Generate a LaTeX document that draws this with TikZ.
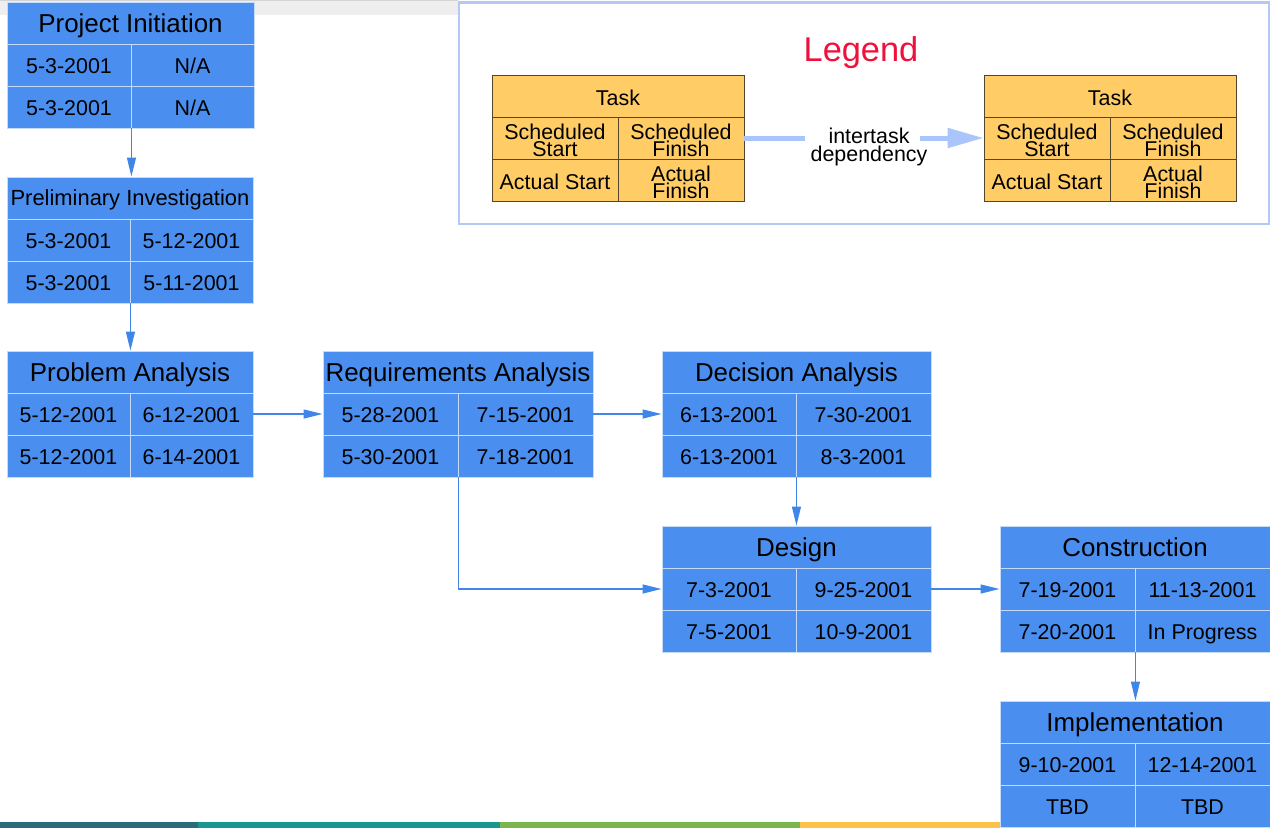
\documentclass[tikz,border=0pt]{standalone}
\usepackage{fontspec}
\setmainfont{Liberation Sans}
\usetikzlibrary{arrows.meta}
\definecolor{tbfill}{HTML}{4A8FF0}
\definecolor{tbline}{HTML}{C6DAFA}
\definecolor{conn}{HTML}{3F86E8}
\definecolor{lgfill}{HTML}{FFCC66}
\definecolor{lgline}{HTML}{54452C}
\definecolor{lgframe}{HTML}{B4C8F4}
\definecolor{lgred}{HTML}{F0103C}
\definecolor{deparrow}{HTML}{A9C5FB}
\definecolor{stripA}{HTML}{EEEEEE}
\definecolor{stripB}{HTML}{D4D4D4}
\definecolor{barA}{HTML}{2A6B7C}
\definecolor{barB}{HTML}{1A9690}
\definecolor{barC}{HTML}{7AB550}
\definecolor{barD}{HTML}{FCC14A}
\tikzset{
  tbase/.style={draw=tbline, line width=0.9bp, fill=tbfill, inner sep=0pt, minimum height=42bp, text depth=0pt, text=black},
  ttitle/.style={tbase, font=\fontsize{26}{28}\selectfont},
  ttitlesmall/.style={tbase, font=\fontsize{22}{24}\selectfont},
  tcell/.style={tbase, font=\fontsize{21.5}{23}\selectfont, text height=17bp},
  lbase/.style={draw=lgline, line width=0.7bp, fill=lgfill, inner sep=0pt, minimum width=126bp, minimum height=42bp, text depth=0pt, align=center, font=\fontsize{21.5}{17}\selectfont},
  lone/.style={lbase, text height=19.6bp},
  ltwo/.style={lbase, text height=36.6bp},
  link/.style={draw=conn, line width=1.2bp, -{Triangle[length=19bp,width=9bp]}},
  deplink/.style={draw=deparrow, line width=5bp},
}
\newcommand\tbtitle[7]{%
  \pgfmathsetmacro\tbW{#5+#6}%
  \node[#1, minimum width=\tbW bp] (#2-t) at ({#3+\tbW/2},{#4+21}) {#7};%
  \gdef\tbN{#2}\gdef\tbX{#3}\gdef\tbY{#4}\gdef\tbA{#5}\gdef\tbB{#6}}
\newcommand\tbcells[5]{%
  \node[#1, minimum width=\tbA bp] (\tbN-a) at ({\tbX+\tbA/2},{\tbY+63}) {#2};%
  \node[#1, minimum width=\tbB bp] (\tbN-b) at ({\tbX+\tbA+\tbB/2},{\tbY+63}) {#3};%
  \node[#1, minimum width=\tbA bp] (\tbN-c) at ({\tbX+\tbA/2},{\tbY+105}) {#4};%
  \node[#1, minimum width=\tbB bp] (\tbN-d) at ({\tbX+\tbA+\tbB/2},{\tbY+105}) {#5};}
\newcommand\legtask[2]{% name, x
  \node[lone, minimum width=252bp] (#1-t) at ({#2+126},96) {Task};%
  \node[ltwo] (#1-a) at ({#2+63},138) {Scheduled\\Start};%
  \node[ltwo] (#1-b) at ({#2+189},138) {Scheduled\\Finish};%
  \node[lone] (#1-c) at ({#2+63},180) {Actual Start};%
  \node[ltwo] (#1-d) at ({#2+189},180) {Actual\\Finish};}
\begin{document}
\begin{tikzpicture}[x=1bp,y=-1bp]
\useasboundingbox (0,0) rectangle (1270,828);
% background strip and bottom bar
\fill[stripA] (0,0) rectangle (458,15);
\fill[stripB] (0,0) rectangle (458,1.5);
\fill[barA] (0,822) rectangle (198,828);
\fill[barB] (198,822) rectangle (500,828);
\fill[barC] (500,822) rectangle (800,828);
\fill[barD] (800,822) rectangle (1000,828);
% legend
\draw[lgframe, line width=2bp] (459,2.5) rectangle (1268.5,223.5);
\node[text=lgred, font=\fontsize{34.5}{36}\selectfont, inner sep=0pt, text depth=0pt] (lgt) at (861,49) {Legend};
\legtask{lg1}{492}
\legtask{lg2}{984}
\node[font=\fontsize{21.5}{18}\selectfont, align=center, inner sep=0pt, text depth=0pt] (dep) at (869,145) {intertask\\dependency};
\coordinate (depA) at (805,138);
\coordinate (depB) at (920,138);
\draw[deplink] (lg1-b.east) -- (depA);
\draw[deplink, -{Triangle[length=36bp,width=19bp]}] (depB) -- (lg2-a.west);
% task boxes
\tbtitle{ttitle}{pi}{7}{2}{124}{123}{Project Initiation}
\tbcells{tcell}{5-3-2001}{N/A}{5-3-2001}{N/A}
\tbtitle{ttitlesmall}{pv}{7}{177}{123}{123}{Preliminary Investigation}
\tbcells{tcell}{5-3-2001}{5-12-2001}{5-3-2001}{5-11-2001}
\tbtitle{ttitle}{pa}{7}{351}{123}{123}{Problem Analysis}
\tbcells{tcell}{5-12-2001}{6-12-2001}{5-12-2001}{6-14-2001}
\tbtitle{ttitle}{ra}{323}{351}{135}{135}{Requirements Analysis}
\tbcells{tcell}{5-28-2001}{7-15-2001}{5-30-2001}{7-18-2001}
\tbtitle{ttitle}{da}{662}{351}{134}{135}{Decision Analysis}
\tbcells{tcell}{6-13-2001}{7-30-2001}{6-13-2001}{8-3-2001}
\tbtitle{ttitle}{ds}{662}{526}{134}{135}{Design}
\tbcells{tcell}{7-3-2001}{9-25-2001}{7-5-2001}{10-9-2001}
\tbtitle{ttitle}{cn}{1000}{526}{135}{135}{Construction}
\tbcells{tcell}{7-19-2001}{11-13-2001}{7-20-2001}{In Progress}
\tbtitle{ttitle}{im}{1000}{701}{135}{135}{Implementation}
\tbcells{tcell}{9-10-2001}{12-14-2001}{TBD}{TBD}
% connectors
\draw[link] (pi-c.south east) -- (pi-c.south east |- pv-t.north);
\draw[link] (pv-c.south east) -- (pv-c.south east |- pa-t.north);
\draw[link] (pa-b.east) -- (ra-a.west);
\draw[link] (ra-b.east) -- (da-a.west);
\draw[link] (da-c.south east) -- (da-c.south east |- ds-t.north);
\draw[link] (ra-c.south east) |- (ds-a.west);
\draw[link] (ds-b.east) -- (cn-a.west);
\draw[link] (cn-c.south east) -- (cn-c.south east |- im-t.north);
\end{tikzpicture}
\end{document}
